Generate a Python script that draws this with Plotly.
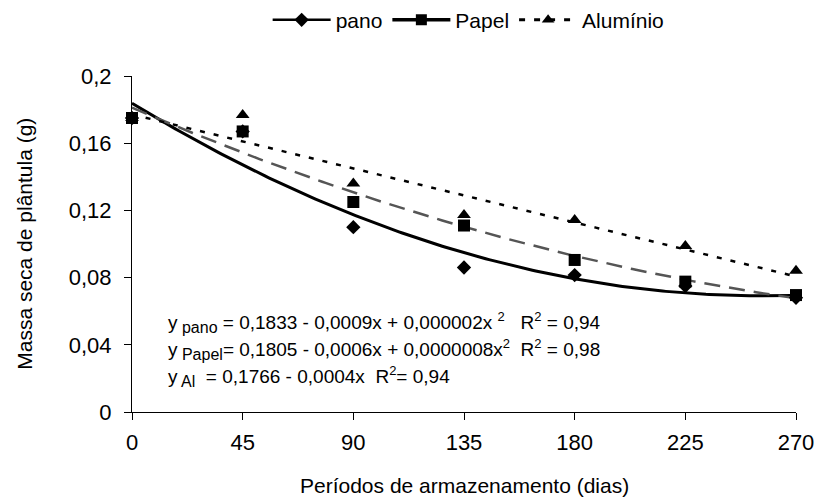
import numpy as np
import plotly.graph_objects as go

# ---- data ----
dias = [0, 45, 90, 135, 180, 225, 270]
pano = [0.175, 0.167, 0.110, 0.086, 0.0815, 0.075, 0.068]
papel = [0.175, 0.167, 0.125, 0.111, 0.0905, 0.0776, 0.0696]
aluminio = [0.175, 0.1768, 0.136, 0.1173, 0.1143, 0.0988, 0.0841]

series_names = ["pano", "Papel", "Alumínio"]
fit_degrees = [2, 2, 1]
y_ticks = [0, 0.04, 0.08, 0.12, 0.16, 0.2]
x_ticks = [0, 45, 90, 135, 180, 225, 270]

SUB = '<sub><span style="font-size:16px">{}</span></sub>'
SUP = '<sup><span style="font-size:13px">2</span></sup>'
equations = [
    "y" + SUB.format(" pano") + " = 0,1833 - 0,0009x + 0,000002x " + SUP + "   R" + SUP + " = 0,94",
    "y" + SUB.format(" Papel") + "= 0,1805 - 0,0006x + 0,0000008x" + SUP + "  R" + SUP + " = 0,98",
    "y" + SUB.format(" Al") + "  = 0,1766 - 0,0004x  R" + SUP + "= 0,94",
]
eq_y = [0.053, 0.037, 0.021]

FONT = "Liberation Sans, Arial, sans-serif"
series = [pano, papel, aluminio]
symbols = ["diamond", "square", "triangle-up"]
marker_sizes = [11, 12, 12]
fit_styles = [
    dict(color="black", width=3, dash="solid"),
    dict(color="#555555", width=2.5, dash="16px,9px"),
    dict(color="black", width=2.5, dash="5px,9px"),
]
legend_styles = [
    dict(color="black", width=2.5, dash="solid"),
    dict(color="black", width=3.5, dash="solid"),
    dict(color="black", width=3, dash="6px,9px"),
]

fig = go.Figure()

xs = np.linspace(0, 270, 200)
for vals, deg, st in zip(series, fit_degrees, fit_styles):
    coef = np.polyfit(dias, vals, deg)
    fig.add_trace(go.Scatter(x=xs, y=np.polyval(coef, xs), mode="lines",
                             line=st, showlegend=False, hoverinfo="skip"))

for idx in [0, 2, 1]:
    fig.add_trace(go.Scatter(x=dias, y=series[idx], mode="markers",
                             marker=dict(symbol=symbols[idx], size=marker_sizes[idx], color="black"),
                             showlegend=False, cliponaxis=False))

for name, sym, st in zip(series_names, symbols, legend_styles):
    fig.add_trace(go.Scatter(x=[None], y=[None], mode="lines+markers", name=name,
                             line=st, marker=dict(symbol=sym, size=11, color="black")))

for txt, yy in zip(equations, eq_y):
    fig.add_annotation(x=0.051, xref="paper", y=yy, yref="y", text=txt,
                       showarrow=False, xanchor="left", yanchor="middle",
                       font=dict(size=19, color="black", family=FONT))

# axis titles
fig.add_annotation(x=-0.163, xref="paper", y=0.5, yref="paper", textangle=-90,
                   text="Massa seca de plântula (g)", showarrow=False,
                   xanchor="center", yanchor="middle", font=dict(size=21, color="black", family=FONT))
fig.add_annotation(x=0.5, xref="paper", y=-0.22, yref="paper",
                   text="Períodos de armazenamento (dias)", showarrow=False,
                   xanchor="center", yanchor="middle", font=dict(size=21, color="black", family=FONT))

fig.update_layout(
    width=826, height=504, autosize=False,
    margin=dict(l=132, r=19, t=76, b=92),
    paper_bgcolor="white", plot_bgcolor="white",
    separators=",.",
    font=dict(family=FONT, color="black", size=22),
    legend=dict(orientation="h", x=0.507, xanchor="center", y=0.96, yref="container",
                yanchor="middle", font=dict(size=21), itemwidth=58,
                bgcolor="rgba(0,0,0,0)"),
    xaxis=dict(range=[0, 270], tickvals=x_ticks, showline=True, linecolor="black",
               linewidth=1, ticks="outside", ticklen=7, tickcolor="black",
               showgrid=False, zeroline=False, tickfont=dict(size=22),
               ticklabelstandoff=4),
    yaxis=dict(range=[0, 0.2], tickvals=y_ticks, showline=True, linecolor="black",
               linewidth=1, ticks="outside", ticklen=7, tickcolor="black",
               showgrid=False, zeroline=False, tickfont=dict(size=22),
               ticklabelstandoff=8),
)

fig.write_html("out.html")
